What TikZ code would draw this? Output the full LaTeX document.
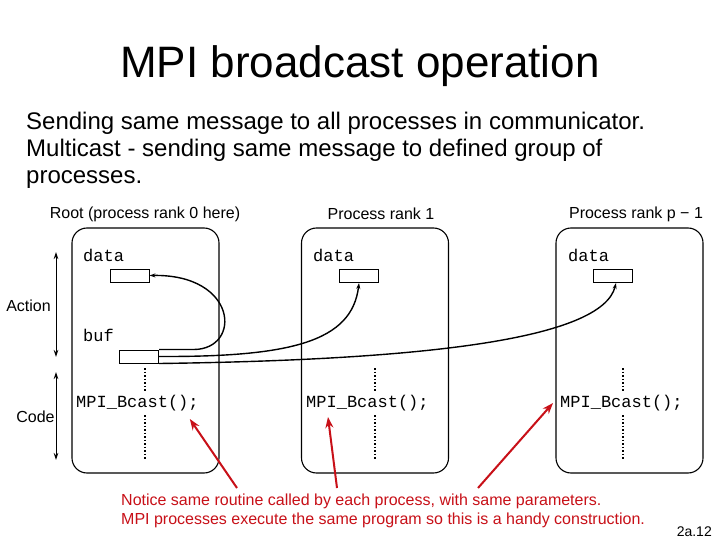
\documentclass[tikz,border=0pt]{standalone}
\usepackage{fontspec}
\setmainfont{Liberation Sans}
\setmonofont{Liberation Mono}
\usetikzlibrary{arrows.meta,positioning,calc}
\definecolor{notered}{RGB}{200,16,24}
\tikzset{
  >={Stealth[length=2.2mm]},
  proc/.style={draw=black,rounded corners=15pt,line width=1.1pt,
    minimum width=147pt,minimum height=245pt,inner sep=0pt},
  varbox/.style={draw=black,line width=1pt,minimum width=39pt,
    minimum height=13pt,inner sep=0pt},
  cname/.style={font=\fontsize{17}{17}\ttfamily,inner sep=0pt,anchor=west},
  plab/.style={font=\fontsize{16}{16}\selectfont,inner sep=0pt},
  codedots/.style={line width=1.2pt,dash pattern=on 1.5pt off 2pt},
  spanarr/.style={{Stealth[length=7pt,width=4.5pt]}-{Stealth[length=7pt,width=4.5pt]},
    line width=1pt},
  bcflow/.style={-{Stealth[length=6pt,width=4pt]},line width=1.4pt},
  notearr/.style={-{Stealth[length=11pt,width=8pt]},line width=2pt,notered},
  notetxt/.style={font=\fontsize{16}{19}\selectfont,text=notered,align=left,
    inner sep=0pt},
}

\begin{document}
\begin{tikzpicture}[x=1pt,y=-1pt]
  \useasboundingbox[fill=white] (0,0) rectangle (720,540);
  % heading and intro
  \node[font=\fontsize{44}{44}\selectfont,anchor=base] (title) at (360,78)
    {MPI broadcast operation};
  \node[font=\fontsize{24}{27}\selectfont,align=left,anchor=north west,
    inner sep=0pt] (intro) at (26,112)
    {Sending same message to all processes in communicator.\\
     Multicast - sending same message to defined group of\\
     processes.};
  % the three processes
  \node[proc] (p0) at (145.5,350.5) {};
  \node[proc] (p1) at (375,350.5) {};
  \node[proc] (p2) at (629.5,350.5) {};
  \node[plab] (l0) at (145,214) {Root (process rank 0 here)};
  \node[plab] (l1) at (381,214) {Process rank 1};
  \node[plab] (l2) at (636,214) {Process rank p − 1};
  % variables
  \node[cname] (n0) at (83,255) {data};
  \node[cname] (n1) at (313,255) {data};
  \node[cname] (n2) at (568,255) {data};
  \node[cname] (nb) at (83,335) {buf};
  \node[varbox] (d0) at (129.5,275.5) {};
  \node[varbox] (d1) at (359,276) {};
  \node[varbox] (d2) at (613,276) {};
  \node[varbox] (buf) at (139,356.5) {};
  % code lines
  \node[cname] (bc0) at (76,403) {MPI\_Bcast();};
  \node[cname] (bc1) at (306,403) {MPI\_Bcast();};
  \node[cname] (bc2) at (560,403) {MPI\_Bcast();};
  \foreach \x in {145,375,623} {
    \draw[codedots] (\x,368) -- (\x,392);
    \draw[codedots] (\x,415) -- (\x,460);
  }
  % left scale
  \coordinate (a1) at (56,252);
  \coordinate (a2) at (56,357);
  \coordinate (c1) at (56,372);
  \coordinate (c2) at (56,460);
  \draw[spanarr] (a1) -- (a2);
  \draw[spanarr] (c1) -- (c2);
  \node[plab] (act) at (28.5,306) {Action};
  \node[plab] (code) at (35.5,417) {Code};
  % broadcast flows
  \draw[bcflow] (buf.north east) -- ++(35,0)
    .. controls (242,349) and (238,274) .. (d0.east);
  \draw[bcflow] (buf.east) .. controls (290,357) and (352,342) .. (d1.south);
  \draw[bcflow] (buf.south east) .. controls (420,360) and (602,340)
    .. ([xshift=3pt]d2.south);
  % note
  \node[notetxt,anchor=north west] (note) at (121,494)
    {Notice same routine called by each process, with same parameters.\\
     MPI processes execute the same program so this is a handy construction.};
  \coordinate (s0) at (237,488);
  \coordinate (s1) at (337,488);
  \coordinate (s2) at (478,488);
  \draw[notearr] (s0) -- ([shift={(-9,16)}]bc0.east);
  \draw[notearr] (s1) -- ([shift={(22,14)}]bc1.west);
  \draw[notearr] (s2) -- ([shift={(-7,0)}]bc2.west);
  \node[font=\fontsize{14}{14}\selectfont,anchor=base east,inner sep=0pt]
    (pg) at (712,536) {2a.12};
\end{tikzpicture}
\end{document}
